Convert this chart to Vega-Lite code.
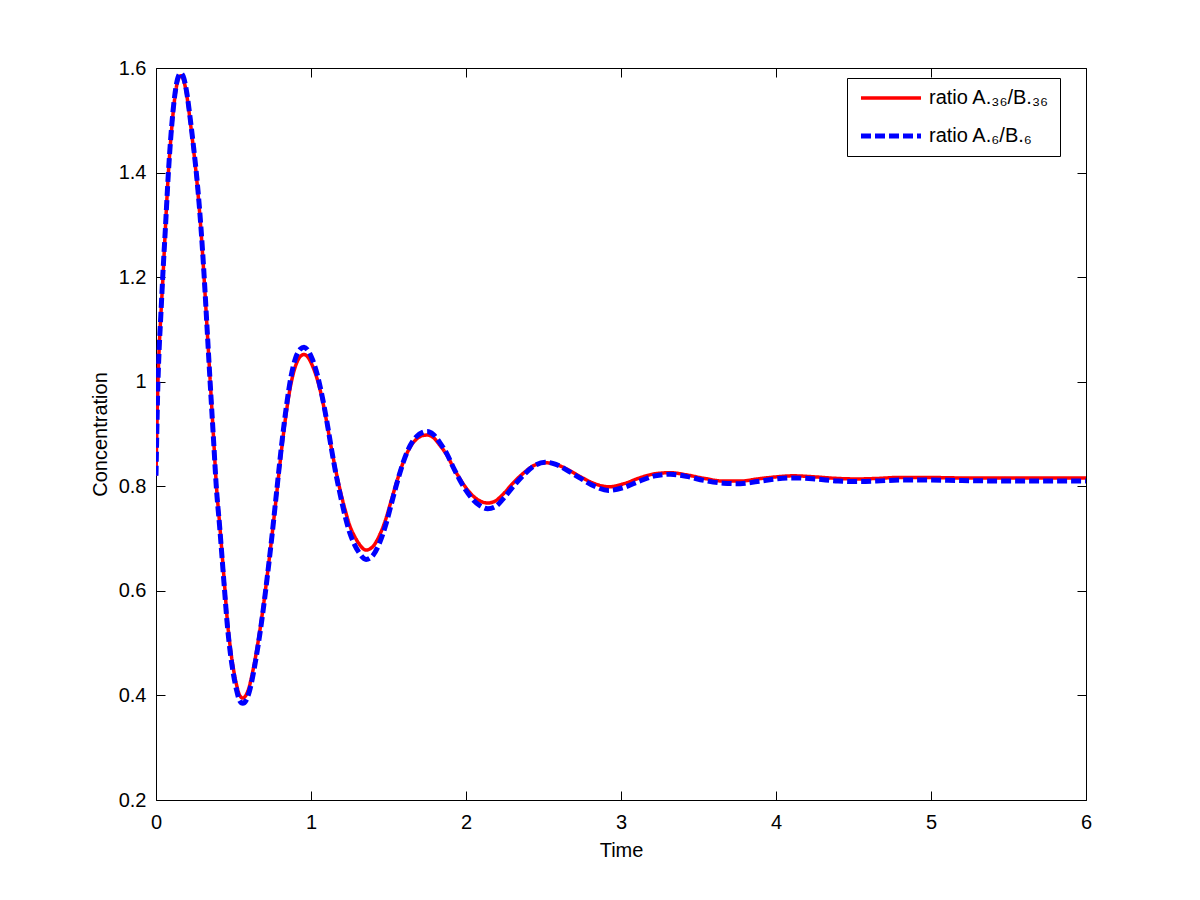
{
  "$schema": "https://vega.github.io/schema/vega-lite/v6.json",
  "width": 930,
  "height": 732,
  "autosize": {"type": "none"},
  "padding": {"left": 156, "top": 68, "right": 114, "bottom": 100},
  "background": "white",
  "config": {
    "view": {"stroke": "black", "strokeWidth": 1},
    "axis": {
      "labelFont": "Liberation Sans",
      "titleFont": "Liberation Sans",
      "labelFontSize": 20,
      "titleFontSize": 20,
      "titleFontWeight": "normal",
      "labelColor": "black",
      "titleColor": "black",
      "tickColor": "black",
      "domain": false,
      "grid": false,
      "labelFlush": false,
      "tickSize": -9
    },
    "legend": {
      "labelFont": "Liberation Sans",
      "labelFontSize": 20,
      "labelColor": "black"
    }
  },
  "data": {
    "values": [
      {"t": 0, "a": 0.82, "b": 0.82},
      {"t": 0.01, "a": 0.97, "b": 0.97},
      {"t": 0.02, "a": 1.06, "b": 1.06},
      {"t": 0.03, "a": 1.12, "b": 1.12},
      {"t": 0.045, "a": 1.2, "b": 1.21},
      {"t": 0.06, "a": 1.29, "b": 1.29},
      {"t": 0.08, "a": 1.4, "b": 1.4},
      {"t": 0.1, "a": 1.48, "b": 1.485},
      {"t": 0.12, "a": 1.54, "b": 1.545},
      {"t": 0.14, "a": 1.575, "b": 1.58},
      {"t": 0.16, "a": 1.585, "b": 1.59},
      {"t": 0.18, "a": 1.575, "b": 1.58},
      {"t": 0.2, "a": 1.545, "b": 1.55},
      {"t": 0.22, "a": 1.5, "b": 1.505},
      {"t": 0.24, "a": 1.45, "b": 1.455},
      {"t": 0.265, "a": 1.38, "b": 1.385},
      {"t": 0.29, "a": 1.29, "b": 1.295},
      {"t": 0.31, "a": 1.2, "b": 1.205},
      {"t": 0.33, "a": 1.1, "b": 1.1},
      {"t": 0.35, "a": 1.0, "b": 0.995},
      {"t": 0.37, "a": 0.9, "b": 0.895},
      {"t": 0.39, "a": 0.8, "b": 0.795},
      {"t": 0.41, "a": 0.73, "b": 0.725},
      {"t": 0.44, "a": 0.62, "b": 0.61},
      {"t": 0.46, "a": 0.544, "b": 0.535},
      {"t": 0.48, "a": 0.49, "b": 0.48},
      {"t": 0.5, "a": 0.45, "b": 0.44},
      {"t": 0.52, "a": 0.42, "b": 0.41},
      {"t": 0.54, "a": 0.4, "b": 0.39},
      {"t": 0.56, "a": 0.395, "b": 0.385},
      {"t": 0.58, "a": 0.4, "b": 0.39},
      {"t": 0.6, "a": 0.415, "b": 0.405},
      {"t": 0.62, "a": 0.44, "b": 0.43},
      {"t": 0.64, "a": 0.47, "b": 0.462},
      {"t": 0.66, "a": 0.505, "b": 0.498},
      {"t": 0.69, "a": 0.565, "b": 0.56},
      {"t": 0.72, "a": 0.635, "b": 0.632},
      {"t": 0.75, "a": 0.71, "b": 0.71},
      {"t": 0.78, "a": 0.79, "b": 0.795},
      {"t": 0.81, "a": 0.87, "b": 0.878},
      {"t": 0.84, "a": 0.94, "b": 0.95},
      {"t": 0.87, "a": 0.995, "b": 1.008},
      {"t": 0.9, "a": 1.03, "b": 1.045},
      {"t": 0.93, "a": 1.048, "b": 1.062},
      {"t": 0.955, "a": 1.052, "b": 1.066},
      {"t": 0.98, "a": 1.047, "b": 1.06},
      {"t": 1.01, "a": 1.03, "b": 1.042},
      {"t": 1.04, "a": 1.005, "b": 1.014},
      {"t": 1.07, "a": 0.97, "b": 0.975},
      {"t": 1.1, "a": 0.925, "b": 0.928},
      {"t": 1.13, "a": 0.875, "b": 0.875},
      {"t": 1.16, "a": 0.83, "b": 0.825},
      {"t": 1.19, "a": 0.79, "b": 0.782},
      {"t": 1.22, "a": 0.755, "b": 0.743},
      {"t": 1.25, "a": 0.725, "b": 0.711},
      {"t": 1.28, "a": 0.705, "b": 0.689},
      {"t": 1.31, "a": 0.69, "b": 0.673},
      {"t": 1.355, "a": 0.678, "b": 0.66},
      {"t": 1.4, "a": 0.685, "b": 0.668},
      {"t": 1.44, "a": 0.705, "b": 0.69},
      {"t": 1.48, "a": 0.735, "b": 0.724},
      {"t": 1.52, "a": 0.775, "b": 0.768},
      {"t": 1.56, "a": 0.815, "b": 0.812},
      {"t": 1.6, "a": 0.85, "b": 0.85},
      {"t": 1.64, "a": 0.875, "b": 0.878},
      {"t": 1.68, "a": 0.89, "b": 0.895},
      {"t": 1.72, "a": 0.897, "b": 0.903},
      {"t": 1.75, "a": 0.898, "b": 0.905},
      {"t": 1.79, "a": 0.893, "b": 0.899},
      {"t": 1.83, "a": 0.879, "b": 0.884},
      {"t": 1.88, "a": 0.858, "b": 0.86},
      {"t": 1.92, "a": 0.835, "b": 0.835},
      {"t": 1.96, "a": 0.815, "b": 0.812},
      {"t": 2.0, "a": 0.797, "b": 0.792},
      {"t": 2.04, "a": 0.783, "b": 0.776},
      {"t": 2.09, "a": 0.772, "b": 0.763},
      {"t": 2.14, "a": 0.768, "b": 0.757},
      {"t": 2.19, "a": 0.772, "b": 0.761},
      {"t": 2.24, "a": 0.785, "b": 0.776},
      {"t": 2.3, "a": 0.805, "b": 0.798},
      {"t": 2.37, "a": 0.825, "b": 0.821},
      {"t": 2.44, "a": 0.84, "b": 0.839},
      {"t": 2.51, "a": 0.845, "b": 0.846},
      {"t": 2.58, "a": 0.842, "b": 0.842},
      {"t": 2.65, "a": 0.833, "b": 0.831},
      {"t": 2.74, "a": 0.818, "b": 0.815},
      {"t": 2.83, "a": 0.805, "b": 0.8},
      {"t": 2.92, "a": 0.799, "b": 0.792},
      {"t": 3.02, "a": 0.805, "b": 0.798},
      {"t": 3.12, "a": 0.816, "b": 0.81},
      {"t": 3.22, "a": 0.824, "b": 0.82},
      {"t": 3.32, "a": 0.826, "b": 0.823},
      {"t": 3.42, "a": 0.822, "b": 0.819},
      {"t": 3.54, "a": 0.815, "b": 0.811},
      {"t": 3.66, "a": 0.81, "b": 0.806},
      {"t": 3.77, "a": 0.81, "b": 0.805},
      {"t": 3.88, "a": 0.814, "b": 0.809},
      {"t": 4.0, "a": 0.818, "b": 0.814},
      {"t": 4.11, "a": 0.82, "b": 0.816},
      {"t": 4.25, "a": 0.818, "b": 0.814},
      {"t": 4.4, "a": 0.815, "b": 0.81},
      {"t": 4.52, "a": 0.814, "b": 0.809},
      {"t": 4.65, "a": 0.815, "b": 0.81},
      {"t": 4.8, "a": 0.817, "b": 0.812},
      {"t": 4.95, "a": 0.817, "b": 0.812},
      {"t": 5.2, "a": 0.816, "b": 0.811},
      {"t": 5.5, "a": 0.816, "b": 0.81},
      {"t": 6.0, "a": 0.816, "b": 0.81}
    ]
  },
  "transform": [{"fold": ["a", "b"], "as": ["s", "v"]}],
  "layer": [
    {
      "mark": {"type": "line", "interpolate": "monotone", "clip": true},
      "encoding": {
        "x": {
          "field": "t", "type": "quantitative",
          "scale": {"domain": [0, 6], "nice": false, "zero": false},
          "axis": {"orient": "bottom", "values": [0, 1, 2, 3, 4, 5, 6], "title": "Time", "labelPadding": 21, "titlePadding": 8}
        },
        "y": {
          "field": "v", "type": "quantitative",
          "scale": {"domain": [0.2, 1.6], "nice": false, "zero": false},
          "axis": {"orient": "left", "values": [0.2, 0.4, 0.6, 0.8, 1.0, 1.2, 1.4, 1.6], "format": ".1~f", "title": "Concentration", "labelPadding": 19, "titlePadding": 8}
        },
        "color": {
          "field": "s", "type": "nominal",
          "scale": {"domain": ["a", "b"], "range": ["#ff0000", "#0000ff"]},
          "legend": {
            "title": null,
            "orient": "none",
            "legendX": 691,
            "legendY": 10,
            "labelExpr": "datum.label == 'a' ? 'ratio A.₃₆/B.₃₆' : 'ratio A.₆/B.₆'",
            "symbolType": "M-1,0H9",
            "symbolSize": 144,
            "strokeColor": "black",
            "fillColor": "white",
            "padding": 10,
            "rowPadding": 18,
            "labelOffset": 52,
            "cornerRadius": 0
          }
        },
        "strokeDash": {
          "field": "s", "type": "nominal",
          "scale": {"domain": ["a", "b"], "range": [[1, 0], [10, 4]]}
        },
        "strokeWidth": {
          "field": "s", "type": "nominal",
          "scale": {"domain": ["a", "b"], "range": [3.5, 5]}
        }
      }
    },
    {
      "mark": {"type": "point", "opacity": 0},
      "encoding": {
        "x": {
          "field": "t", "type": "quantitative",
          "axis": {"orient": "top", "values": [0, 1, 2, 3, 4, 5, 6], "labels": false, "title": null}
        },
        "y": {
          "field": "v", "type": "quantitative",
          "axis": {"orient": "right", "values": [0.2, 0.4, 0.6, 0.8, 1.0, 1.2, 1.4, 1.6], "labels": false, "title": null}
        }
      }
    }
  ],
  "resolve": {"axis": {"x": "independent", "y": "independent"}}
}
